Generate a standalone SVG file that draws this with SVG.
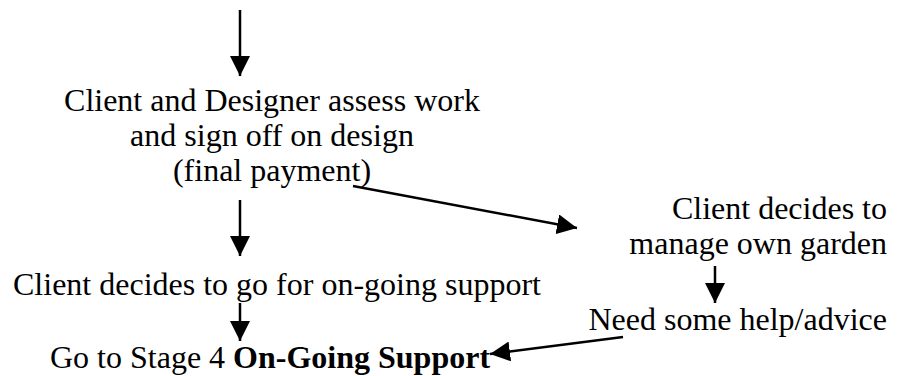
<svg xmlns="http://www.w3.org/2000/svg" width="902" height="376" viewBox="0 0 902 376" font-family="'Liberation Serif', Tinos, 'Times New Roman', 'DejaVu Serif', serif">
<style>
text{font-family:'Liberation Serif',Tinos,'Times New Roman','DejaVu Serif',serif;font-size:32px;fill:#000}
.b{font-weight:bold}
.c{stroke:#000;stroke-width:2.5;fill:none;marker-end:url(#ah)}
</style>
<defs>
<marker id="ah" markerUnits="userSpaceOnUse" markerWidth="20" markerHeight="20" viewBox="0 0 18 18" refX="18" refY="9" orient="auto">
<path d="M0,0 L18,9 L0,18 Z" fill="#000"/>
</marker>
</defs>
<rect width="902" height="376" fill="#fff"/>
<g id="connectors">
<line class="c" x1="240" y1="10" x2="240" y2="76"/>
<line class="c" x1="240" y1="200" x2="240" y2="256"/>
<line class="c" x1="240" y1="303" x2="240" y2="341"/>
<line class="c" x1="353" y1="186" x2="577" y2="228"/>
<line class="c" x1="715" y1="266" x2="715" y2="303"/>
<line class="c" x1="623" y1="337" x2="490" y2="354"/>
</g>
<g id="assess" text-anchor="middle">
<text x="272" y="111">Client and Designer assess work</text>
<text x="272" y="146">and sign off on design</text>
<text x="272" y="181">(final payment)</text>
</g>
<g id="manage" text-anchor="end">
<text x="887" y="219">Client decides to</text>
<text x="887" y="254">manage own garden</text>
</g>
<g id="ongoing">
<text x="13" y="295">Client decides to go for on-going support</text>
</g>
<g id="help">
<text x="887" y="330" text-anchor="end">Need some help/advice</text>
</g>
<g id="stage4">
<text x="50" y="368">Go to Stage 4 <tspan class="b">On-Going Support</tspan></text>
</g>
</svg>
